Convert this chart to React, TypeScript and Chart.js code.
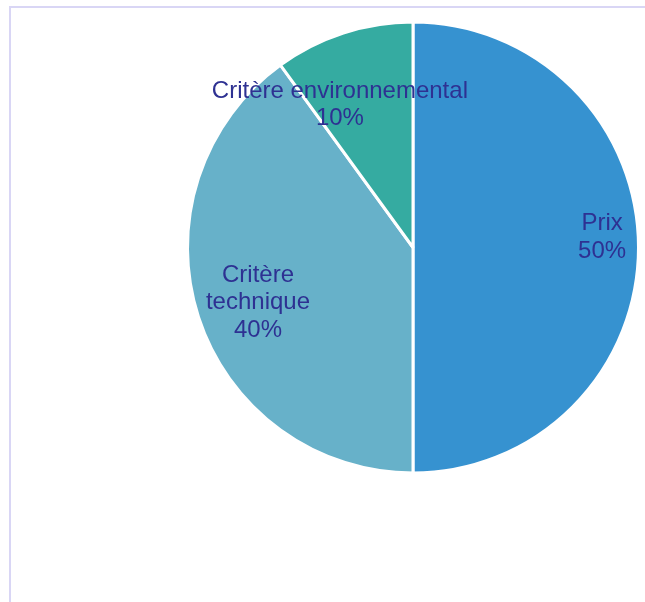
import React, { useEffect, useRef } from "react";
import { Chart, registerables } from "chart.js";

Chart.register(...registerables);

const categories: string[][] = [["Prix"], ["Critère", "technique"], ["Critère environnemental"]];
const shares: number[] = [50, 40, 10];
const sliceColors: string[] = ["#3692d0", "#67b1c9", "#35aba1"];
const percentLabels: string[] = ["50%", "40%", "10%"];

// label placement relative to each arc (radial fraction, angular nudge in degrees)
const labelLayout = [
  { frac: 0.84, shift: -3.6 },
  { frac: 0.727, shift: -1.0 },
  { frac: 0.719, shift: -8.8 },
];

const labelPlugin = {
  id: "sliceLabels",
  afterDatasetsDraw(chart: any) {
    const ctx = chart.ctx;
    const meta = chart.getDatasetMeta(0);
    ctx.save();
    ctx.font = '24px "Liberation Sans", Arial, sans-serif';
    ctx.fillStyle = "#2e3192";
    ctx.textAlign = "center";
    ctx.textBaseline = "middle";
    const lh = 27.5;
    meta.data.forEach((arc: any, i: number) => {
      const p = arc.getProps(["x", "y", "startAngle", "endAngle", "outerRadius"], true);
      const mid = (p.startAngle + p.endAngle) / 2 + (labelLayout[i].shift * Math.PI) / 180;
      const r = p.outerRadius * labelLayout[i].frac;
      const cx = p.x + Math.cos(mid) * r;
      const cy = p.y + Math.sin(mid) * r;
      const lines = [...categories[i], percentLabels[i]];
      const top = cy - ((lines.length - 1) * lh) / 2 + 2;
      lines.forEach((t, k) => ctx.fillText(t, cx, top + k * lh));
    });
    ctx.restore();
  },
};

export default function App() {
  const ref = useRef<HTMLCanvasElement | null>(null);
  useEffect(() => {
    if (!ref.current) return;
    const chart = new Chart(ref.current, {
      type: "pie",
      data: {
        labels: categories.map((c) => c.join(" ")),
        datasets: [
          {
            data: shares,
            backgroundColor: sliceColors,
            borderColor: "#ffffff",
            borderWidth: 3,
          },
        ],
      },
      options: {
        responsive: false,
        animation: false,
        devicePixelRatio: 1,
        radius: 225.5,
        layout: { padding: { left: 181, right: 0, top: 0, bottom: 107 } },
        plugins: {
          legend: { display: false },
          tooltip: { enabled: false },
        },
      },
      plugins: [labelPlugin],
    });
    return () => chart.destroy();
  }, []);

  return (
    <div
      style={{
        position: "fixed",
        left: 0,
        top: 0,
        width: 645,
        height: 602,
        overflow: "hidden",
        background: "#ffffff",
      }}
    >
      <div
        style={{
          position: "absolute",
          left: 9,
          top: 6,
          width: 800,
          height: 800,
          borderLeft: "2px solid #d9d6f5",
          borderTop: "2px solid #d9d6f5",
        }}
      />
      <canvas
        ref={ref}
        width={645}
        height={602}
        style={{ position: "absolute", left: 0, top: 0, width: 645, height: 602 }}
      />
    </div>
  );
}
